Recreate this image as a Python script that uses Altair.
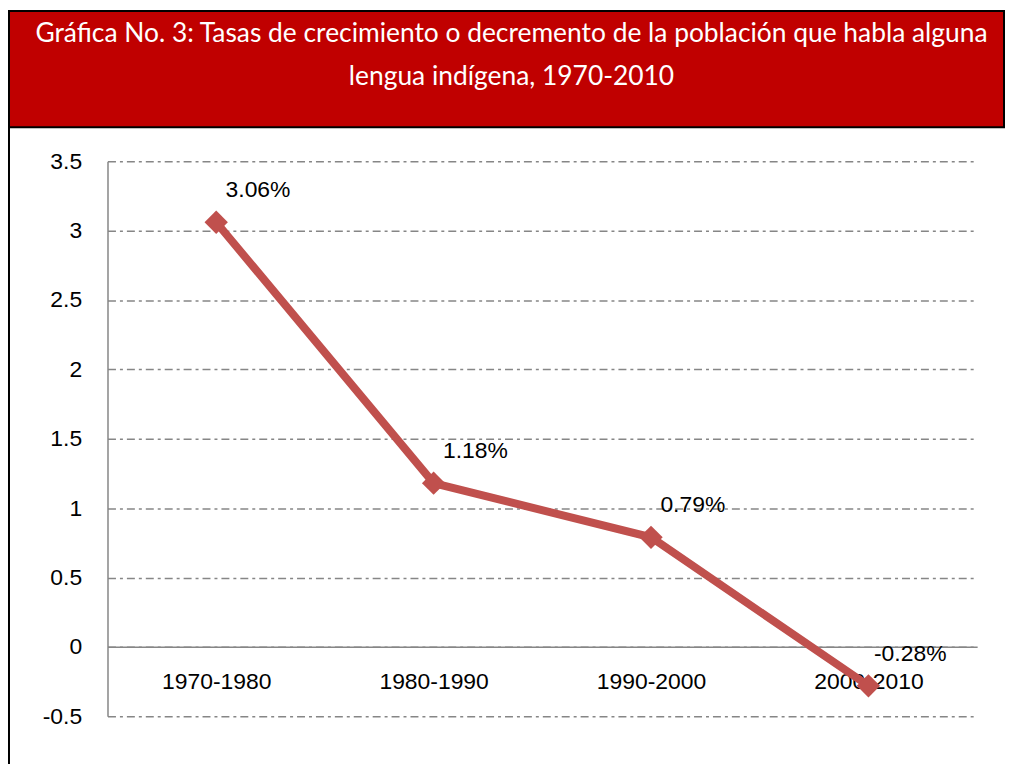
import altair as alt
import pandas as pd

periods = ["1970-1980", "1980-1990", "1990-2000", "2000-2010"]
rates = [3.06, 1.18, 0.79, -0.28]
rate_labels = ["3.06%", "1.18%", "0.79%", "-0.28%"]
title_lines = [
    "Gráfica No. 3: Tasas de crecimiento o decremento de la población que habla alguna",
    "lengua indígena, 1970-2010",
]
y_ticks = [-0.5, 0, 0.5, 1, 1.5, 2, 2.5, 3, 3.5]

df = pd.DataFrame({"periodo": periods, "tasa": rates, "etiqueta": rate_labels})
tdf = pd.DataFrame({"linea": title_lines, "n": [0, 1]})
one = pd.DataFrame({"a": [0]})

PW = 874
PH = 558
RED = "#C0504D"
GRID = "#868686"
FS = 23

banner_bg = alt.Chart(one).mark_rect(color="#C00000", stroke="#000000", strokeWidth=2).encode(
    x=alt.value(-99), x2=alt.value(-99 + 1000), y=alt.value(-151), y2=alt.value(-34)
)
title_layers = []
for i, ypix in enumerate([-128, -85]):
    title_layers.append(
        alt.Chart(tdf)
        .transform_filter(alt.datum.n == i)
        .mark_text(color="white", font="Lato", fontSize=26.5, align="center", baseline="middle")
        .encode(x=alt.value(406), y=alt.value(ypix), text="linea:N")
    )

base = alt.Chart(df).encode(
    x=alt.X(
        "periodo:N",
        sort=periods,
        scale=alt.Scale(type="point", padding=0.5),
        axis=alt.Axis(
            title=None, offset=-70, domainColor=GRID, domainWidth=1.5, ticks=False,
            labelPadding=24, labelFontSize=FS, labelAngle=0, grid=False,
        ),
    ),
    y=alt.Y(
        "tasa:Q",
        scale=alt.Scale(domain=[-0.5, 3.5], nice=False, zero=False),
        axis=alt.Axis(
            title=None, values=y_ticks, labelExpr="datum.value + ''", grid=True,
            gridDash=[8, 4, 3, 4], gridColor=GRID, gridWidth=1.5, domainColor=GRID,
            domainWidth=1.5, ticks=False, labelPadding=26, labelFontSize=FS,
        ),
    ),
)

line = base.mark_line(color=RED, strokeWidth=8)
pts = base.mark_point(shape="diamond", filled=True, size=550, color=RED, opacity=1)
txt = base.mark_text(dx=42, dy=-32, fontSize=FS, font="Liberation Sans", color="#000000").encode(
    text="etiqueta:N"
)
border = alt.Chart(one).mark_rule(color="#000000", strokeWidth=2).encode(
    x=alt.value(-99), y=alt.value(-34), y2=alt.value(PH + 48)
)

chart = (
    alt.layer(banner_bg, *title_layers, border, line, pts, txt)
    .properties(width=PW, height=PH, padding=0, background="white")
    .configure_view(stroke=None)
    .configure_axis(labelFont="Liberation Sans", labelColor="#000000")
)

chart.save("out.html", embed_options={"renderer": "svg", "actions": False})
